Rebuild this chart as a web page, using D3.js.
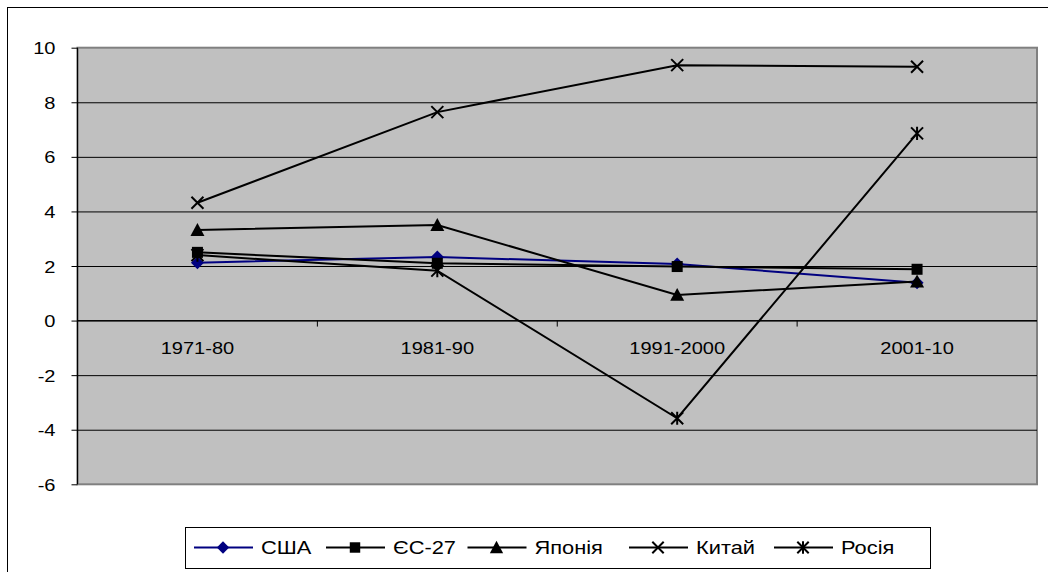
<!DOCTYPE html>
<html>
<head>
<meta charset="utf-8">
<script src="https://cdn.jsdelivr.net/npm/d3@7"></script>
<style>
  html, body { margin: 0; padding: 0; background: #fff; }
  svg { display: block; }
  text { font-family: "Liberation Sans", Arial, sans-serif; fill: #000; }
</style>
</head>
<body>
<svg id="chart" width="1048" height="572"></svg>
<script>
// ---- data ----
const categories = ["1971-80", "1981-90", "1991-2000", "2001-10"];
const seriesNames = ["США", "ЄС-27", "Японія", "Китай", "Росія"];
const usa    = [2.12, 2.33, 2.07, 1.39];
const eu27   = [2.50, 2.10, 1.98, 1.88];
const japan  = [3.32, 3.50, 0.94, 1.43];
const china  = [4.32, 7.64, 9.36, 9.30];
const russia = [2.40, 1.83, -3.58, 6.86];
const yTicks = [-6, -4, -2, 0, 2, 4, 6, 8, 10];

const series = [
  { name: seriesNames[0], values: usa,    color: "#000080", marker: "diamond" },
  { name: seriesNames[1], values: eu27,   color: "#000000", marker: "square" },
  { name: seriesNames[2], values: japan,  color: "#000000", marker: "triangle" },
  { name: seriesNames[3], values: china,  color: "#000000", marker: "x" },
  { name: seriesNames[4], values: russia, color: "#000000", marker: "star" }
];

const SX = 1.18; // horizontal stretch of the original picture's text
const svg = d3.select("#chart");
const plot = { left: 77.5, right: 1037, top: 47.7, bottom: 484.3 };

// outer chart border
svg.append("rect")
  .attr("x", 7.5).attr("y", 7.5).attr("width", 1200).attr("height", 700)
  .attr("fill", "#fff").attr("stroke", "#000").attr("stroke-width", 1);

const x = d3.scaleBand().domain(categories).range([plot.left, plot.right]).padding(0);
const y = d3.scaleLinear().domain([-6, 10]).range([plot.bottom, plot.top]);
const cx = d => x(d) + x.bandwidth() / 2;

// plot area
svg.append("rect")
  .attr("x", plot.left).attr("y", plot.top)
  .attr("width", plot.right - plot.left).attr("height", plot.bottom - plot.top)
  .attr("fill", "#c0c0c0").attr("stroke", "#808080").attr("stroke-width", 2);

// gridlines
const grid = svg.append("g").attr("transform", `translate(${plot.left},0)`)
  .call(d3.axisLeft(y).tickValues(yTicks.filter(t => t > -6 && t < 10)).tickSize(-(plot.right - plot.left)).tickFormat(""));
grid.select(".domain").remove();
grid.selectAll("line").attr("stroke", "#000").attr("stroke-width", 1);

// y axis
const yAxis = svg.append("g").attr("transform", `translate(${plot.left},0)`)
  .call(d3.axisLeft(y).tickValues(yTicks).tickSize(6).tickFormat(d => String(d)));
yAxis.select(".domain").attr("stroke", "#000").attr("stroke-width", 1.2).attr("d", `M0,${plot.top}V${plot.bottom}`);
yAxis.selectAll(".tick line").attr("stroke", "#000");
yAxis.selectAll("text").style("font-size", "17px").attr("fill", "#000")
  .attr("x", 0).attr("dy", "0.36em")
  .attr("transform", `translate(-22,0) scale(${SX},1)`);

// x axis at zero
const xAxis = svg.append("g").attr("transform", `translate(0,${y(0)})`)
  .call(d3.axisBottom(x).tickSize(0).tickPadding(0));
xAxis.select(".domain").attr("stroke", "#000").attr("stroke-width", 1).attr("d", `M${plot.left},0H${plot.right}`);
xAxis.selectAll("text").style("font-size", "17px").attr("dy", 0).attr("y", 0)
  .attr("transform", `translate(0,33.5) scale(${SX},1)`);
// category boundary ticks
const bounds = categories.slice(1).map(c => x(c));
xAxis.selectAll(".bt").data(bounds).enter().append("line")
  .attr("x1", d => d).attr("x2", d => d).attr("y1", 0).attr("y2", 6)
  .attr("stroke", "#000");

// markers
function drawMarker(g, type, px, py, color, s) {
  s = s || 1;
  if (type === "diamond") {
    const r = 6.5 * s;
    g.append("path").attr("d", `M${px},${py - r}L${px + r},${py}L${px},${py + r}L${px - r},${py}Z`).attr("fill", color);
  } else if (type === "square") {
    const r = 5.5 * s;
    g.append("rect").attr("x", px - r).attr("y", py - r).attr("width", 2 * r).attr("height", 2 * r).attr("fill", color);
  } else if (type === "triangle") {
    const r = 7 * s;
    g.append("path").attr("d", `M${px},${py - r}L${px + r},${py + r * 0.85}L${px - r},${py + r * 0.85}Z`).attr("fill", color);
  } else if (type === "x") {
    const r = 6 * s;
    g.append("path").attr("d", `M${px - r},${py - r}L${px + r},${py + r}M${px + r},${py - r}L${px - r},${py + r}`)
      .attr("stroke", color).attr("stroke-width", 2).attr("fill", "none");
  } else if (type === "star") {
    const r = 6 * s;
    g.append("path").attr("d", `M${px - r},${py - r}L${px + r},${py + r}M${px + r},${py - r}L${px - r},${py + r}M${px},${py - r * 1.1}L${px},${py + r * 1.1}`)
      .attr("stroke", color).attr("stroke-width", 2).attr("fill", "none");
  }
}

// series
const line = d3.line().x((d, i) => cx(categories[i])).y(d => y(d));
series.forEach(s => {
  const g = svg.append("g");
  g.append("path").datum(s.values).attr("d", line)
    .attr("fill", "none").attr("stroke", s.color).attr("stroke-width", 2);
  s.values.forEach((v, i) => drawMarker(g, s.marker, cx(categories[i]), y(v), s.color));
});

// legend
const legend = svg.append("g");
legend.append("rect").attr("x", 185.5).attr("y", 527.5).attr("width", 745).attr("height", 41)
  .attr("fill", "#fff").attr("stroke", "#000").attr("stroke-width", 1);
const legendX = [194, 326, 467.5, 629, 774];
const ly = 547.5;
series.forEach((s, i) => {
  const g = legend.append("g");
  const lx = legendX[i];
  g.append("line").attr("x1", lx).attr("x2", lx + 59).attr("y1", ly).attr("y2", ly)
    .attr("stroke", s.color).attr("stroke-width", 2);
  drawMarker(g, s.marker, lx + 29, ly, s.color, 0.95);
  g.append("text").attr("x", 0).attr("y", 0).attr("dy", "0.36em")
    .attr("transform", `translate(${lx + 67},${ly}) scale(${SX},1)`)
    .style("font-size", "18.5px").text(s.name);
});
</script>
</body>
</html>
